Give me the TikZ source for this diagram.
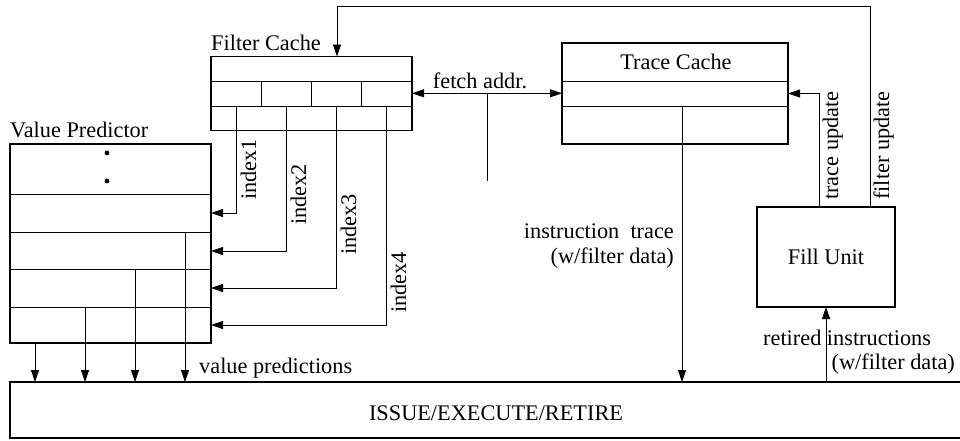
\documentclass[tikz,border=0pt]{standalone}
\usepackage{fontspec}
\setmainfont{Liberation Serif}
\usetikzlibrary{arrows.meta}
\newcommand\fsz{\fontsize{22.3}{26}\selectfont}
\begin{document}
\begin{tikzpicture}[x=1pt,y=-1pt,
  box/.style={draw,line width=1.6pt,rectangle,inner sep=0pt,outer sep=0pt,font=\fsz},
  thin/.style={line width=0.8pt},
  tip/.tip={Triangle[length=12pt,width=8pt]},
  arr/.style={thin,-tip},
  lbl/.style={font=\fsz,inner sep=0pt},
]
\useasboundingbox (0,0) rectangle (960,440);

% internal lines of Filter Cache
\draw[thin] (211,81) -- (412,81) (211,106) -- (412,106);
\foreach \x in {261,311,361.5} \draw[thin] (\x,81) -- (\x,106);
% internal lines of Value Predictor
\draw[thin] (10,194) -- (211,194) (10,232) -- (211,232) (10,269.5) -- (211,269.5) (10,307) -- (211,307);
\draw[thin] (185,232) -- (185,343) (135,269.5) -- (135,343) (85,307) -- (85,343);
\fill (107,153) circle (2.4pt) (107,181) circle (2.4pt);
% internal lines of Trace Cache
\draw[thin] (562,81) -- (788,81) (562,106) -- (788,106);

% boxes
\node[box,minimum width=201pt,minimum height=74pt] (fc) at (311.5,93.5) {};
\node[box,minimum width=201pt,minimum height=199pt] (vp) at (110.5,243.5) {};
\node[box,minimum width=226pt,minimum height=101pt] (tc) at (675,93.5) {};
\node[box,minimum width=138pt,minimum height=100pt] (fu) at (826,257) {Fill Unit};
\node[box,minimum width=975pt,minimum height=56pt] (is) at (497.5,410) {};

% titles
\node[lbl,anchor=base west] (fct) at (211,50) {Filter Cache};
\node[lbl,anchor=base west] (vpt) at (10,137) {Value Predictor};
\node[lbl,anchor=base] (tct) at (676,69) {Trace Cache};
\node[lbl,anchor=base] (ist) at (496,420) {ISSUE/EXECUTE/RETIRE};

% index connectors
\foreach \x/\y/\n/\s in {236/213/1/200, 286/251/2/225, 336/288/3/255, 386/325/4/313} {
  \coordinate (is\n) at (\x,106);
  \coordinate (it\n) at (211,\y);
  \draw[arr] (is\n) |- (it\n);
  \node[lbl,rotate=90,anchor=base west] (il\n) at (\x+20,\s) {index\n};
}

% value prediction arrows
\foreach \x in {35,85,135,185} {
  \coordinate (vx\x) at (\x,0);
  \draw[arr] (vp.south -| vx\x) -- (is.north -| vx\x);
}
\node[lbl,anchor=base west] (vpl) at (199,373) {value predictions};

% fetch address
\coordinate (fa) at (487,93.3);
\coordinate (faend) at (487,181);
\draw[thin,tip-tip] (fc.east |- fa) -- (tc.west |- fa);
\draw[thin] (fa) -- (faend);
\node[lbl,anchor=base] (fal) at (480,88) {fetch addr.};

% instruction trace
\coordinate (itop) at (682,106);
\draw[arr] (itop) -- (itop |- is.north);
\node[lbl,anchor=base east] (itl1) at (674,238) {instruction\hspace{0.5em}trace};
\node[lbl,anchor=base east] (itl2) at (674,263) {(w/filter data)};

% trace update
\coordinate (tu) at (819,93.5);
\draw[arr] (tu |- fu.north) -- (tu) -- (tc.east);
\node[lbl,rotate=90,anchor=base west] (tul) at (838,200) {trace update};

% filter update
\coordinate (fuTop) at (870,6);
\coordinate (fcin) at (337,56.5);
\draw[arr] (fuTop |- fu.north) -- (fuTop) -| (fcin);
\node[lbl,rotate=90,anchor=base west] (ful) at (889,200) {filter update};

% retired instructions
\draw[arr] (is.north -| fu.south) -- (fu.south);
\node[lbl,anchor=base west] (ril1) at (763,345) {retired instructions};
\node[lbl,anchor=base east] (ril2) at (955,369) {(w/filter data)};
\end{tikzpicture}
\end{document}
